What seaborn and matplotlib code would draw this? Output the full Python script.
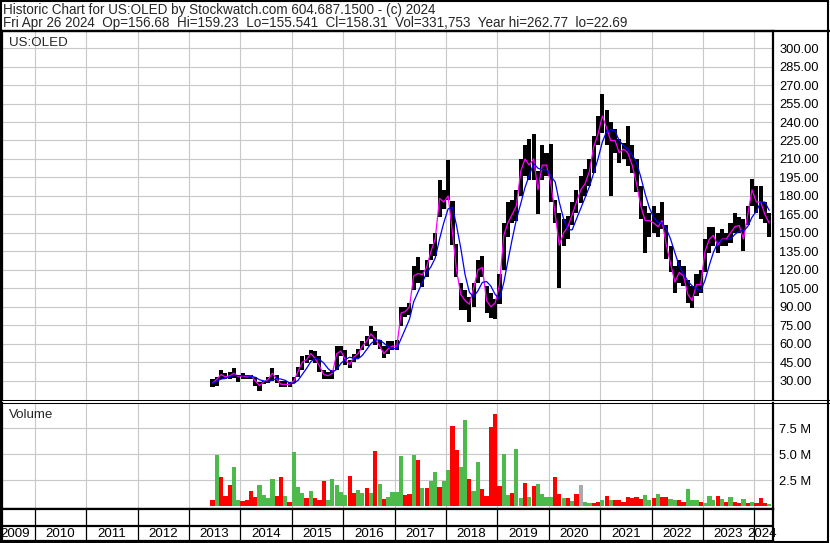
import numpy as np
import pandas as pd
import matplotlib
matplotlib.use("Agg")
import matplotlib.pyplot as plt
import matplotlib.dates as mdates
import seaborn as sns

sns.set_style("white")
plt.rcParams['font.family'] = ['Liberation Sans', 'DejaVu Sans']

# monthly bars, Jun 2013 .. Apr 2024
months = pd.date_range("2013-06-01", "2024-04-01", freq="MS")

high = [31, 33, 39, 36, 37, 40, 35,
        36, 35, 35, 33, 29, 30, 33, 40, 35, 30, 30, 29,
        33, 41, 50, 51, 55, 54, 50, 39, 37, 39, 58, 58,
        55, 47, 52, 56, 62, 66, 74, 70, 63, 58, 62, 62,
        63, 90, 90, 93, 123, 130, 120, 128, 141, 150, 193, 185,
        209, 176, 141, 109, 104, 98, 109, 128, 131, 107, 101, 96,
        117, 158, 175, 177, 185, 210, 221, 226, 230, 200, 221, 215,
        222, 177, 166, 161, 164, 175, 185, 196, 202, 210, 229, 245,
        263, 250, 240, 234, 226, 223, 237, 221, 210, 188, 172, 166,
        172, 166, 175, 156, 139, 123, 128, 123, 112, 107, 117, 120,
        145, 155, 155, 150, 153, 150, 158, 166, 163, 161, 172, 194,
        188, 188, 175, 166]
low = [25, 26, 31, 31, 31, 32, 29,
       31, 31, 31, 26, 22, 27, 28, 30, 28, 25, 25, 25,
       28, 33, 39, 44, 47, 44, 37, 31, 31, 31, 39, 50,
       43, 40, 45, 48, 55, 58, 64, 59, 56, 48, 52, 55,
       55, 74, 82, 83, 104, 109, 106, 114, 128, 131, 163, 169,
       177, 140, 114, 87, 87, 78, 90, 109, 114, 85, 81, 80,
       92, 120, 147, 158, 160, 180, 196, 193, 193, 165, 193, 196,
       175, 158, 105, 139, 145, 156, 166, 174, 180, 188, 199, 221,
       231, 221, 180, 215, 207, 210, 204, 199, 183, 161, 134, 147,
       150, 147, 153, 129, 118, 101, 109, 107, 93, 89, 99, 101,
       118, 134, 139, 134, 139, 139, 142, 150, 150, 135, 156, 172,
       166, 161, 158, 147]
close = [28, 31, 35, 33, 34, 36, 33,
         34, 33, 34, 30, 26, 29, 31, 36, 31, 27, 27, 27,
         30, 38, 45, 47, 52, 48, 42, 35, 34, 36, 52, 54,
         47, 43, 49, 52, 58, 62, 68, 64, 58, 52, 56, 58,
         58, 85, 86, 90, 115, 117, 116, 122, 135, 145, 178, 175,
         180, 150, 120, 100, 95, 92, 105, 120, 122, 95, 90, 93,
         108, 148, 158, 165, 172, 200, 210, 205, 210, 185, 205, 205,
         190, 165, 140, 150, 155, 165, 175, 185, 190, 200, 220, 230,
         245, 235, 225, 225, 215, 218, 215, 205, 190, 172, 160, 160,
         158, 155, 160, 140, 125, 110, 118, 115, 100, 95, 108, 108,
         135, 145, 148, 140, 145, 145, 150, 155, 156, 145, 165, 185,
         175, 175, 165, 158]

# volume in millions, colour of the bar (g = up, r = down, n = unchanged)
volume = [0.6, 4.9, 2.8, 1.0, 2.0, 3.8, 0.6,
          0.5, 0.6, 1.5, 0.9, 2.0, 1.1, 0.8, 2.6, 1.0, 2.8, 1.0, 0.45,
          5.2, 1.9, 1.3, 0.8, 1.5, 0.8, 0.6, 2.4, 0.6, 2.6, 2.0, 1.35,
          1.1, 2.95, 1.25, 1.55, 1.25, 1.8, 1.25, 5.3, 2.1, 0.7, 0.9, 1.35,
          1.35, 4.8, 1.1, 1.15, 4.9, 4.45, 1.8, 1.8, 2.4, 3.3, 1.85, 2.4,
          3.5, 7.7, 5.4, 3.8, 8.3, 2.6, 1.5, 4.3, 1.65, 1.0, 7.6, 8.9,
          1.95, 5.0, 1.1, 1.25, 5.5, 0.8, 2.2, 0.9, 1.95, 2.15, 1.15, 0.9,
          0.9, 2.8, 1.2, 0.8, 0.75, 0.5, 1.15, 2.0, 0.4, 0.3, 0.35, 0.45,
          0.6, 1.0, 0.6, 0.6, 0.6, 0.45, 0.9, 0.75, 0.9, 0.7, 1.1, 0.6,
          0.75, 1.15, 0.9, 0.9, 0.7, 0.6, 0.6, 0.45, 1.65, 0.6, 0.6, 0.45,
          0.35, 1.0, 0.6, 1.0, 0.7, 0.4, 0.9, 0.45, 0.3, 0.7, 0.35, 0.4,
          0.3, 0.75, 0.35, 0.25]
vol_dir = list("".join([
    "rgrrrgg",
    "rrrrggggrrgr",
    "gggrgrrrgggg",
    "grrggrgrgrgg",
    "ggrrgrgrggrg",
    "grrggrggrrrr",
    "rggrggrgrggg",
    "grrgrgrnggrr",
    "grgrrrrrrrgg",
    "rgrrggrrgggr",
    "gggrgrgrrgrg",
    "rrrg",
]))

price_ticks = np.arange(30, 301, 15)
vol_ticks = [2.5, 5.0, 7.5]
vol_tick_labels = ["2.5 M", "5.0 M", "7.5 M"]
years = list(range(2009, 2025))

header1 = "Historic Chart for US:OLED by Stockwatch.com 604.687.1500 - (c) 2024"
header2 = ("Fri Apr 26 2024  Op=156.68  Hi=159.23  Lo=155.541  Cl=158.31  "
           "Vol=331,753  Year hi=262.77  lo=22.69")

df = pd.DataFrame({"x": mdates.date2num(months + pd.Timedelta(days=15)),
                   "high": high, "low": low, "close": close,
                   "volume": np.array(volume) * 1e6, "dir": vol_dir})
df["ma_fast"] = df["close"]
df["ma_slow"] = df["close"].rolling(4, min_periods=1).mean()

W, H = 830, 543


def box(x0, y0, x1, y1):
    return [x0 / W, 1 - y1 / H, (x1 - x0) / W, (y1 - y0) / H]


fig = plt.figure(figsize=(W / 100, H / 100), dpi=100)
ax_p = fig.add_axes(box(2, 31, 773, 400))
ax_v = fig.add_axes(box(2, 403, 773, 509))
ax_y = fig.add_axes(box(2, 509, 773, 541))

xmin = mdates.date2num(pd.Timestamp("2009-05-12"))
xmax = mdates.date2num(pd.Timestamp("2024-05-13"))
year_starts = [mdates.date2num(pd.Timestamp(f"{y}-01-01")) for y in years[1:]]
grid_col = "#c8c8c8"

# price panel
ax_p.bar(df["x"], df["high"] - df["low"], bottom=df["low"], width=29,
         color="black", lw=0, zorder=3)
sns.lineplot(data=df, x="x", y="ma_fast", color="#ff00ff", lw=0.9, ax=ax_p, zorder=4)
sns.lineplot(data=df, x="x", y="ma_slow", color="#0000ff", lw=0.9, ax=ax_p, zorder=4)
ax_p.set_ylim(14.3, 313.9)
ax_p.set_yticks(price_ticks)
ax_p.set_yticklabels([f"{v:.2f}" for v in price_ticks])

# volume panel
colors = {"g": "#4cbb4c", "r": "#ff0000", "n": "#aaaaaa"}
ax_v.bar(df["x"], df["volume"], width=30, lw=0,
         color=[colors[c] for c in df["dir"]], zorder=3)
ax_v.set_ylim(-0.26e6, 9.93e6)
ax_v.set_yticks([v * 1e6 for v in vol_ticks])
ax_v.set_yticklabels(vol_tick_labels)

for ax in (ax_p, ax_v):
    ax.set_xlim(xmin, xmax)
    ax.set_xticks(year_starts)
    ax.set_xticklabels([])
    ax.set_xlabel("")
    ax.set_ylabel("")
    ax.grid(True, color=grid_col, lw=0.8)
    ax.set_axisbelow(True)
    ax.yaxis.tick_right()
    ax.tick_params(axis="y", length=0, pad=4.5, labelsize=9.3, labelcolor="black")
    ax.tick_params(axis="x", length=0)
    for s in ax.spines.values():
        s.set_color("black")
    ax.spines["left"].set_linewidth(1.6)
    ax.spines["right"].set_linewidth(1.6)

ax_p.spines["top"].set_linewidth(1.6)
ax_p.spines["bottom"].set_visible(False)
ax_v.spines["top"].set_visible(False)
ax_v.spines["bottom"].set_linewidth(1.6)

# year band
ax_y.set_xlim(xmin, xmax)
ax_y.set_ylim(0, 1)
ax_y.set_xticks([])
ax_y.set_yticks([])
for s in ax_y.spines.values():
    s.set_color("black")
    s.set_linewidth(1.6)
ax_y.axhline(0.47, color="black", lw=1.6)
for d in year_starts:
    ax_y.axvline(d, color="black", lw=0.9)
lo_lim = xmin + 92
hi_lim = xmax - 75
for y in years:
    c = mdates.date2num(pd.Timestamp(f"{y}-07-02"))
    c = min(max(c, lo_lim), hi_lim)
    ax_y.text(c, 0.22, str(y), ha="center", va="center", fontsize=9.6,
              color="black", clip_on=False)

# header and panel titles
fig.text(3 / W, 1 - 14 / H, header1, fontsize=9.75, va="baseline")
fig.text(3 / W, 1 - 26.5 / H, header2, fontsize=9.75, va="baseline")
fig.text(9 / W, 1 - 46 / H, "US:OLED", fontsize=9.6, va="baseline")
fig.text(9 / W, 1 - 417.5 / H, "Volume", fontsize=9.6, va="baseline")

# header rule and the double separator line across the whole width
for yy, lw in ((30.5, 1.6), (400.0, 0.75), (403.0, 0.75)):
    fig.add_artist(plt.Line2D([0, 1], [1 - yy / H, 1 - yy / H],
                              transform=fig.transFigure, color="black", lw=lw))

fig.add_artist(plt.Rectangle((0.5 / W, 1.5 / H), (W - 3) / W, (H - 2.5) / H,
                             transform=fig.transFigure, fill=False,
                             edgecolor="black", lw=1.5))

fig.savefig("out.png", dpi=100)
